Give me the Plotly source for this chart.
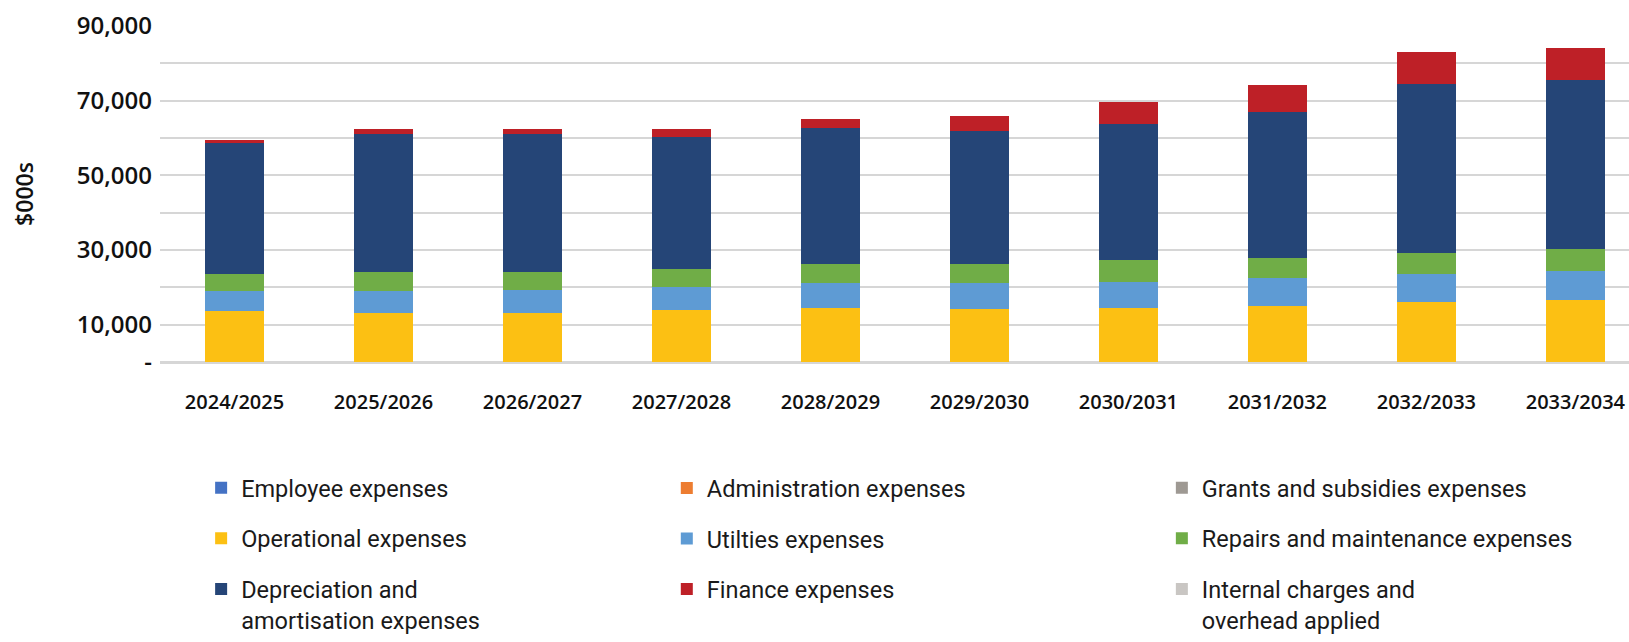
import plotly.graph_objects as go

# Financial years shown on the category axis
years = ["2024/2025", "2025/2026", "2026/2027", "2027/2028", "2028/2029",
         "2029/2030", "2030/2031", "2031/2032", "2032/2033", "2033/2034"]

# Expense components, $000s
employee = [0, 0, 0, 0, 0, 0, 0, 0, 0, 0]
administration = [0, 0, 0, 0, 0, 0, 0, 0, 0, 0]
grants = [0, 0, 0, 0, 0, 0, 0, 0, 0, 0]
operational = [13570, 13120, 13120, 13830, 14360, 14100, 14360, 14970, 15950, 16560]
utilities = [5370, 5820, 6190, 6350, 6690, 6950, 7060, 7410, 7590, 7930]
repairs = [4680, 5210, 4840, 4840, 5210, 5210, 5820, 5470, 5550, 5740]
depreciation = [34990, 36840, 36840, 35180, 36320, 35520, 36390, 39060, 45390, 45310]
finance = [980, 1320, 1320, 2110, 2560, 4230, 6090, 7410, 8650, 8560]
internal = [0, 0, 0, 0, 0, 0, 0, 0, 0, 0]

# Y axis: gridline every 10,000, labels on the odd ten-thousands
y_tickvals = [0, 10000, 20000, 30000, 40000, 50000, 60000, 70000, 80000, 90000]
y_ticktext = ["-", "10,000", "", "30,000", "", "50,000", "", "70,000", "", "90,000"]

# (name, values, colour, legend column, rank within column)
series = [
    ("Employee expenses", employee, "#4472C4", "legend", 1),
    ("Administration expenses", administration, "#ED7D31", "legend2", 1),
    ("Grants and subsidies expenses", grants, "#9E9993", "legend3", 1),
    ("Operational expenses", operational, "#FCC013", "legend", 2),
    ("Utilties expenses", utilities, "#5E9BD4", "legend2", 2),
    ("Repairs and maintenance expenses", repairs, "#70AD47", "legend3", 2),
    ("Depreciation and<br>amortisation expenses", depreciation, "#254577", "legend", 3),
    ("Finance expenses", finance, "#BE2027", "legend2", 3),
    ("Internal charges and<br>overhead applied", internal, "#C9C6C3", "legend3", 3),
]

fig = go.Figure()
for name, vals, color, leg, rank in series:
    fig.add_trace(go.Bar(
        x=years, y=vals, name=name,
        marker=dict(color=color, line=dict(width=0)),
        legend=leg, legendgroup=name, legendrank=rank,
    ))

legend_font = dict(family="Roboto", size=23.5, color="#1a1a1a")
legend_common = dict(
    orientation="v", yanchor="top", xanchor="left",
    y=-0.31, font=legend_font, valign="top",
    tracegroupgap=17, bgcolor="rgba(0,0,0,0)", borderwidth=0,
)

fig.update_layout(
    width=1629, height=642,
    margin=dict(l=160, r=0, t=26, b=276),
    barmode="stack", bargap=0.6,
    plot_bgcolor="white", paper_bgcolor="white",
    legend=dict(x=0.028, **legend_common),
    legend2=dict(x=0.345, **legend_common),
    legend3=dict(x=0.682, **legend_common),
    xaxis=dict(
        range=[-0.5, 9.36], showgrid=False, zeroline=False, showline=False,
        ticks="", ticklabelstandoff=26,
        tickfont=dict(family="Open Sans", size=20, color="#111111", weight=600),
    ),
    yaxis=dict(
        range=[0, 90000], tickvals=y_tickvals, ticktext=y_ticktext,
        showgrid=True, gridcolor="#D6D6D6", gridwidth=2,
        zeroline=True, zerolinecolor="#D6D6D6", zerolinewidth=3,
        showline=False, ticks="", ticklabelstandoff=7,
        tickfont=dict(family="Open Sans", size=24, color="#111111", weight=600),
        title=dict(text="$000s", standoff=36,
                   font=dict(family="Open Sans", size=23, color="#111111", weight=600)),
    ),
)

fig.write_html("out.html")
